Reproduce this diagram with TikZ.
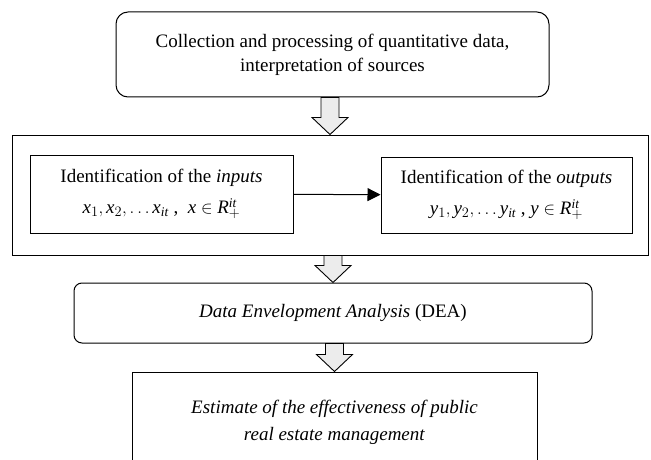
\documentclass[tikz,border=0pt]{standalone}
\usepackage{fontspec}
\setmainfont{Liberation Serif}
\usetikzlibrary{arrows.meta,calc}

% hollow block arrow from the bottom of one node to the top of the next
\newcommand{\hollowarrow}[2]{%
  \draw[hollow] let \p1=(#1.south), \p2=(#2.north) in
    (\x2-9pt,\y1) -- (\x2-9pt,\y2+17pt) -- (\x2-18pt,\y2+17pt) -- (\x2,\y2)
    -- (\x2+18pt,\y2+17pt) -- (\x2+9pt,\y2+17pt) -- (\x2+9pt,\y1) -- cycle;}

\begin{document}
\begin{tikzpicture}[x=1pt, y=-1pt, font=\fontsize{19}{24}\selectfont,
box/.style={draw, line width=1pt, align=center, inner sep=0pt},
rbox/.style={box, rounded corners=12pt},
hollow/.style={draw, line width=0.9pt, fill=gray!15},
arrow/.style={-{Triangle[length=13pt, width=13pt]}, line width=1pt}]
\useasboundingbox (0,0) rectangle (651,460);
\clip (0,0) rectangle (651,460);
\node[rbox, minimum width=433pt, minimum height=85pt] (collect) at (332.5,54.5) {Collection and processing of quantitative data,\\interpretation of sources};
\node[box, minimum width=636pt, minimum height=120pt] (ident) at (330,195) {};
\node[box, minimum width=263pt, minimum height=78pt] (inputs) at (161.5,194) {Identification of the \textit{inputs}\\[7pt]$\mathit{x}_1,\mathit{x}_2,\ldots \mathit{x}_{\mathit{it}}$\ ,\ \ $\mathit{x}\in \mathit{R}_{+}^{\mathit{it}}$};
\node[box, minimum width=251pt, minimum height=76pt] (outputs) at (506.5,195) {Identification of the \textit{outputs}\\[7pt]$\mathit{y}_1,\mathit{y}_2,\ldots \mathit{y}_{\mathit{it}}$\ ,\ $\mathit{y}\in \mathit{R}_{+}^{\mathit{it}}$};
\node[rbox, rounded corners=8pt, minimum width=518pt, minimum height=60pt] (dea) at (333,313) {\textit{Data Envelopment Analysis} (DEA)};
\node[box, minimum width=405pt, minimum height=100pt] (estimate) at (334.5,422) {\textit{Estimate of the effectiveness of public}\\[3pt]\textit{real estate management}};
\draw[arrow] (inputs)--(outputs);
\hollowarrow{collect}{ident}
\hollowarrow{ident}{dea}
\hollowarrow{dea}{estimate}
\end{tikzpicture}
\end{document}
